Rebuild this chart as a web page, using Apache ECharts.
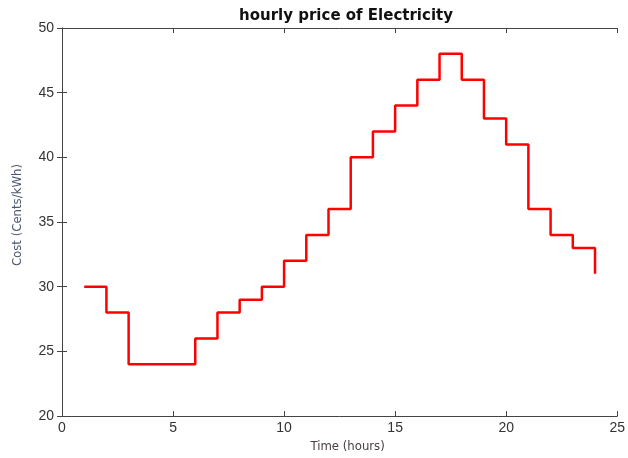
<!DOCTYPE html>
<html><head><meta charset="utf-8">
<script src="https://cdn.jsdelivr.net/npm/echarts@6/dist/echarts.min.js"></script>
<style>html,body{margin:0;padding:0;background:#fff}#c{width:628px;height:458px}</style>
</head><body><div id="c"></div>
<script>
var hours = [1,2,3,4,5,6,7,8,9,10,11,12,13,14,15,16,17,18,19,20,21,22,23,24];
var price = [30,28,24,24,24,26,28,29,30,32,34,36,40,42,44,46,48,46,43,41,36,34,33,31];
var xTicks = [0,5,10,15,20,25];
var yTicks = [20,25,30,35,40,45,50];

var data = hours.map(function(h,i){return [h, price[i]];});
var chart = echarts.init(document.getElementById('c'));
var axisLine = {show:true, lineStyle:{color:'#444', width:1}};
var tickIn = {show:true, inside:true, length:5, lineStyle:{color:'#444'}};
var narrow = '"DejaVu Sans Condensed", "Roboto Condensed", Roboto, sans-serif';
chart.setOption({
  animation:false,
  title:{text:'hourly price of Electricity', left:341, textAlign:'center', top:4,
    textStyle:{fontFamily:'DejaVu Sans', fontWeight:'bold', fontSize:15, color:'#111'}},
  grid:{left:62, right:7, top:28, bottom:41, show:false},
  xAxis:[{type:'value', min:xTicks[0], max:xTicks[xTicks.length-1], interval:5,
    axisLine:axisLine, axisTick:tickIn, splitLine:{show:false},
    axisLabel:{color:'#333', fontSize:14, fontFamily:'Liberation Sans', margin:5},
    name:'Time (hours)', nameLocation:'middle', nameGap:23,
    nameTextStyle:{fontFamily:narrow, fontSize:13, color:'#4a4040', padding:[0,0,0,16]}},
    {type:'value', position:'top', min:0, max:25, interval:5, axisLine:axisLine, axisTick:tickIn,
    axisLabel:{show:false}, splitLine:{show:false}}],
  yAxis:[{type:'value', min:yTicks[0], max:yTicks[yTicks.length-1], interval:5,
    axisLine:axisLine, axisTick:tickIn, splitLine:{show:false},
    axisLabel:{color:'#333', fontSize:14, fontFamily:'Liberation Sans', margin:8},
    name:'Cost (Cents/kWh)', nameLocation:'middle', nameGap:38,
    nameTextStyle:{fontFamily:narrow, fontSize:13, color:'#4d5670', padding:[0,0,0,14]}},
    {type:'value', position:'right', min:20, max:50, interval:5, axisLine:axisLine, axisTick:tickIn,
    axisLabel:{show:false}, splitLine:{show:false}}],
  series:[{type:'line', step:'end', data:data, showSymbol:false, symbol:'none',
    lineStyle:{color:'#ff0000', width:2.5}}]
});
</script></body></html>
